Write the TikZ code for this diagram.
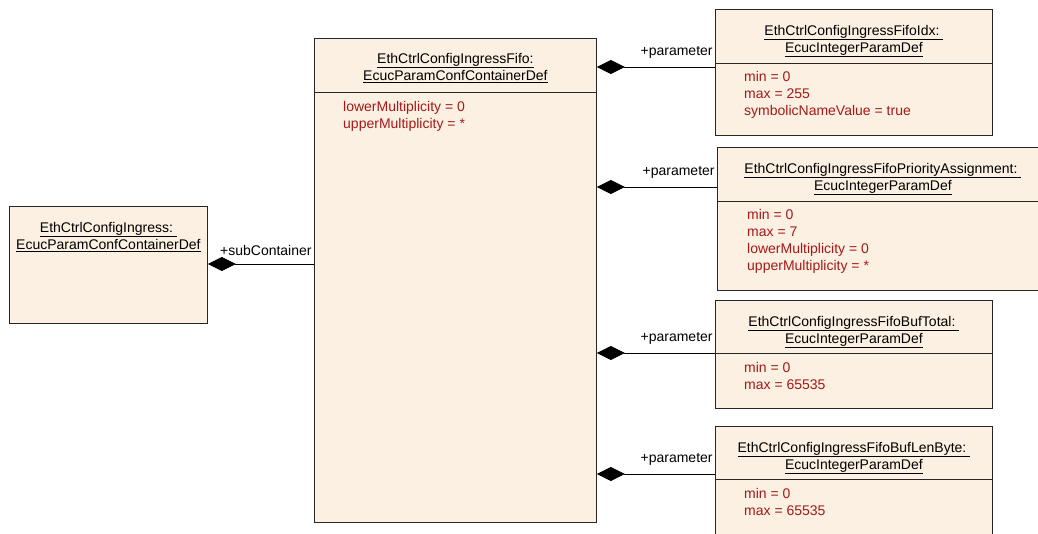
\documentclass[tikz,border=0pt]{standalone}
\usepackage{fontspec}
\setmainfont{Liberation Sans}
\usetikzlibrary{arrows.meta}

\definecolor{boxfill}{RGB}{251,240,225}
\definecolor{attrred}{RGB}{165,25,25}
\newcommand{\umlfont}{\fontsize{14}{17}\selectfont}

\begin{document}
\begin{tikzpicture}[
    x=1pt, y=-1pt,
    umlbox/.style={rectangle, draw=black!85, fill=boxfill, line width=0.8pt,
                   anchor=north west, inner sep=0pt},
    umltitle/.style={anchor=north, inner sep=0pt, align=center, font=\umlfont},
    umlattr/.style={anchor=north west, inner sep=0pt, align=left, text=attrred, font=\umlfont},
    sepline/.style={draw=black!85, line width=0.8pt},
    role/.style={anchor=south east, inner sep=0pt, font=\umlfont, xshift=-2pt, yshift=8pt},
    comp/.style={draw=black, line width=0.8pt, {Diamond[length=28pt,width=14pt]}-}
]
\clip (0,0) rectangle (1038,533);

% Containers
\node[umlbox, minimum width=198pt, minimum height=117pt] (ingress) at (9,206) {};
\node[umltitle] (ingressT) at ([yshift=-16pt]ingress.north)
    {\underline{EthCtrlConfigIngress:~}\\\underline{EcucParamConfContainerDef}};

\node[umlbox, minimum width=282pt, minimum height=484pt] (fifo) at (314,38) {};
\node[umltitle] (fifoT) at ([yshift=-15pt]fifo.north)
    {\underline{EthCtrlConfigIngressFifo:}\\\underline{EcucParamConfContainerDef}};
\draw[sepline] ([yshift=-54pt]fifo.north west) -- ([yshift=-54pt]fifo.north east);
\node[umlattr] (fifoA) at ([xshift=29pt, yshift=-63pt]fifo.north west)
    {lowerMultiplicity = 0\\upperMultiplicity = *};

% Parameters
\node[umlbox, minimum width=277pt, minimum height=126pt] (idx) at (715,9) {};
\node[umltitle] (idxT) at ([yshift=-16pt]idx.north)
    {\underline{EthCtrlConfigIngressFifoIdx:~}\\\underline{EcucIntegerParamDef}};
\draw[sepline] ([yshift=-54pt]idx.north west) -- ([yshift=-54pt]idx.north east);
\node[umlattr] (idxA) at ([xshift=29pt, yshift=-62pt]idx.north west)
    {min = 0\\max = 255\\symbolicNameValue = true};

\node[umlbox, minimum width=331pt, minimum height=143pt] (prio) at (717,147) {};
\node[umltitle] (prioT) at ([yshift=-16pt]prio.north)
    {\underline{EthCtrlConfigIngressFifoPriorityAssignment:~}\\\underline{EcucIntegerParamDef}};
\draw[sepline] ([yshift=-54pt]prio.north west) -- ([yshift=-54pt]prio.north east);
\node[umlattr] (prioA) at ([xshift=30pt, yshift=-62pt]prio.north west)
    {min = 0\\max = 7\\lowerMultiplicity = 0\\upperMultiplicity = *};

\node[umlbox, minimum width=277pt, minimum height=108pt] (total) at (715,300) {};
\node[umltitle] (totalT) at ([yshift=-16pt]total.north)
    {\underline{EthCtrlConfigIngressFifoBufTotal:~}\\\underline{EcucIntegerParamDef}};
\draw[sepline] ([yshift=-53pt]total.north west) -- ([yshift=-53pt]total.north east);
\node[umlattr] (totalA) at ([xshift=29pt, yshift=-62pt]total.north west)
    {min = 0\\max = 65535};

\node[umlbox, minimum width=277pt, minimum height=126pt] (lenbyte) at (715,426) {};
\node[umltitle] (lenbyteT) at ([yshift=-16pt]lenbyte.north)
    {\underline{EthCtrlConfigIngressFifoBufLenByte:~}\\\underline{EcucIntegerParamDef}};
\draw[sepline] ([yshift=-53pt]lenbyte.north west) -- ([yshift=-53pt]lenbyte.north east);
\node[umlattr] (lenbyteA) at ([xshift=29pt, yshift=-62pt]lenbyte.north west)
    {min = 0\\max = 65535};

% Compositions
\coordinate (js) at (314,264);
\coordinate (j1) at (715,67);
\coordinate (j2) at (717,187);
\coordinate (j3) at (715,353);
\coordinate (j4) at (715,474);

\draw[comp] (ingress.east |- js) -- (fifo.west |- js) node[role] {+subContainer};
\draw[comp] (fifo.east |- j1) -- (idx.west |- j1) node[role] {+parameter};
\draw[comp] (fifo.east |- j2) -- (prio.west |- j2) node[role] {+parameter};
\draw[comp] (fifo.east |- j3) -- (total.west |- j3) node[role] {+parameter};
\draw[comp] (fifo.east |- j4) -- (lenbyte.west |- j4) node[role] {+parameter};

\end{tikzpicture}
\end{document}
